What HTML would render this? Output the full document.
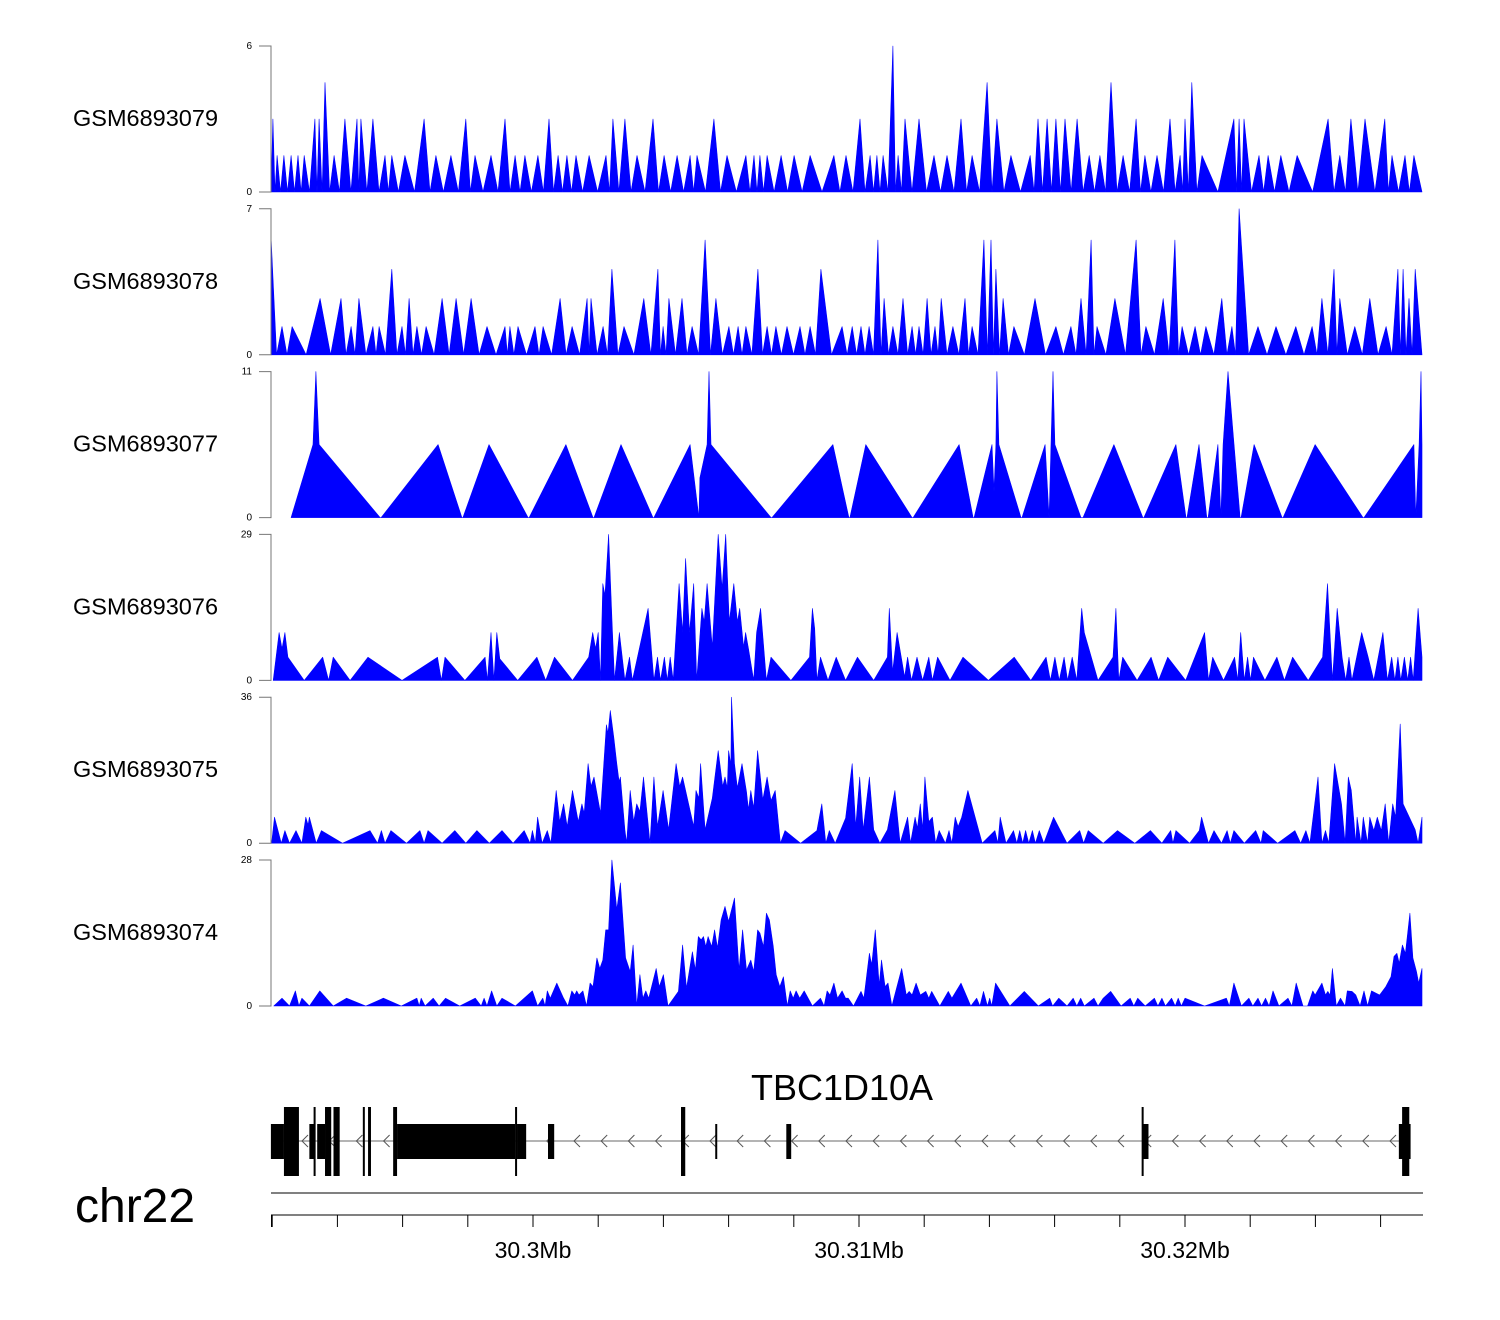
<!DOCTYPE html>
<html><head><meta charset="utf-8"><style>
html,body{margin:0;padding:0;background:#fff;}
svg{display:block;font-family:"Liberation Sans",sans-serif;}
</style></head><body>
<svg id="chart" width="1500" height="1320" viewBox="0 0 1500 1320" xmlns="http://www.w3.org/2000/svg">
<g id="tracks"></g>
<g id="gene"></g>
<g id="axis"></g>
<text x="75" y="1222" font-size="48">chr22</text>
<text x="842" y="1100" font-size="36" text-anchor="middle">TBC1D10A</text>
</svg>
<script>
// genomic positions are kb offsets from 30.29 Mb
const trackNames = ["GSM6893079","GSM6893078","GSM6893077","GSM6893076","GSM6893075","GSM6893074"];
const trackMax = [6,7,11,29,36,28];

// Track 1 (peaks)
const t1Pos = [2.02,2.15,2.36,2.58,2.79,2.98,3.31,3.44,3.62,3.90,4.23,4.60,4.72,5.09,5.46,5.67,6.07,6.66,7.02,7.48,7.94,8.22,8.71,9.14,9.45,9.75,10.15,10.49,10.77,11.04,11.32,11.72,12.24,12.45,12.82,13.19,13.68,14.02,14.42,14.82,15.03,15.55,15.95,16.53,16.78,16.96,17.18,17.61,18.01,18.50,19.23,19.60,20.03,20.34,20.55,20.74,21.04,21.20,21.41,21.84,22.30,22.70,23.13,23.47,23.93,24.23,24.66,25.25,25.49,25.77,26.04,26.32,26.69,27.06,27.39,27.73,28.10,28.50,28.77,29.14,29.54,29.85,30.00,30.21,30.52,31.50,31.66,31.81,32.27,32.55,32.94,33.44,34.39,34.75,35.09,35.52,36.13,36.35,36.75,37.02];
const t1Val = [3,1.5,1.5,1.5,1.5,1.5,3,3,4.5,1.5,3,3,3,3,1.5,1.5,1.5,3,1.5,1.5,3,1.5,1.5,3,1.5,1.5,1.5,3,1.5,1.5,1.5,1.5,1.5,3,3,1.5,3,1.5,1.5,1.5,1.5,3,1.5,1.5,1.5,1.5,1.5,1.5,1.5,1.5,1.5,1.5,3,1.5,1.5,1.5,6,1.5,3,3,1.5,1.5,3,1.5,4.5,3,1.5,1.5,3,3,3,3,3,1.5,1.5,4.5,1.5,3,1.5,1.5,3,1.5,3,4.5,1.5,3,3,3,1.5,1.5,1.5,1.5,3,1.5,3,3,3,1.5,1.5,1.5];

// Track 2 (peaks)
const t2Pos = [1.97,2.30,2.61,3.47,4.11,4.42,4.66,5.09,5.28,5.67,5.98,6.20,6.44,6.72,7.21,7.64,8.10,8.59,9.14,9.29,9.54,10.06,10.31,10.83,11.20,11.66,11.78,12.15,12.42,12.79,13.40,13.83,13.99,14.17,14.57,14.88,15.28,15.61,16.01,16.29,16.53,16.90,17.18,17.45,17.79,18.19,18.50,18.83,19.48,19.79,20.06,20.31,20.58,20.77,21.04,21.35,21.63,21.84,22.09,22.33,22.52,22.88,23.25,23.47,23.83,24.05,24.20,24.42,24.75,25.40,26.04,26.50,26.81,27.12,27.30,27.85,28.50,28.80,29.33,29.69,29.91,30.31,30.64,31.13,31.44,31.66,32.24,32.79,33.40,33.90,34.20,34.57,34.75,35.21,35.67,36.17,36.53,36.69,36.87,37.06];
const t2Val = [5.5,1.35,1.35,2.7,2.7,1.35,2.7,1.35,1.35,4.1,1.35,2.7,1.35,1.35,2.7,2.7,2.7,1.35,1.35,1.35,1.35,1.35,1.35,2.7,1.35,2.7,2.7,1.35,4.1,1.35,2.7,4.1,1.35,2.7,2.7,1.35,5.5,2.7,1.35,1.35,1.35,4.1,1.35,1.35,1.35,1.35,1.35,4.1,1.35,1.35,1.35,1.35,5.5,2.7,1.35,2.7,1.35,1.35,2.7,1.35,2.7,1.35,2.7,1.35,5.5,5.5,4.1,2.7,1.35,2.7,1.35,1.35,2.7,5.5,1.35,2.7,5.5,1.35,2.7,5.5,1.35,1.35,1.35,2.7,1.35,7,1.35,1.35,1.35,1.35,2.7,4.1,2.7,1.35,2.7,1.35,4.1,4.1,2.7,4.1];

// Track 3 (explicit profile)
const t3Pos = [2.58,3.25,3.34,3.44,5.31,5.34,7.09,7.82,7.85,8.65,9.85,9.88,11.01,11.84,11.87,12.70,13.68,13.71,14.82,15.09,15.12,15.34,15.40,15.46,17.30,17.33,19.20,19.69,19.72,20.21,21.63,21.66,23.07,23.50,23.53,24.08,24.14,24.20,24.23,24.29,24.97,25.00,25.71,25.83,25.89,25.95,26.01,26.81,26.87,27.82,28.71,28.74,29.72,30.03,30.06,30.43,30.67,30.71,31.01,31.10,31.17,31.32,31.69,31.72,32.12,32.98,33.01,33.99,35.46,35.49,37.02,37.08,37.18,37.24,37.27];
const t3Val = [0,5.5,11,5.5,0,0,5.5,0,0,5.5,0,0,5.5,0,0,5.5,0,0,5.5,0,3,5.5,11,5.5,0,0,5.5,0,0,5.5,0,0,5.5,0,0,5.5,2,5.5,11,5.5,0,0,5.5,0,5.5,11,5.5,0,0,5.5,0,0,5.5,0,0,5.5,0,0,5.5,0,5.5,11,0,0,5.5,0,0,5.5,0,0,5.5,0,5.5,11,5.5];

// Track 4 (explicit profile)
const t4Pos = [2.03,2.21,2.30,2.39,2.48,2.98,3.55,3.73,3.87,4.39,4.94,5.98,7.07,7.19,7.30,7.91,8.53,8.60,8.71,8.80,8.89,8.98,9.53,10.12,10.39,10.66,11.21,11.71,11.83,11.92,12.00,12.07,12.14,12.21,12.32,12.43,12.50,12.65,12.82,12.96,13.05,13.53,13.71,13.82,13.91,14.03,14.12,14.21,14.30,14.48,14.59,14.68,14.80,14.93,15.02,15.18,15.25,15.34,15.50,15.68,15.80,15.91,16.02,16.16,16.27,16.34,16.46,16.52,16.61,16.77,16.86,16.98,17.16,17.30,17.91,18.48,18.57,18.64,18.71,18.82,19.05,19.30,19.59,19.95,20.45,20.87,20.93,21.03,21.17,21.40,21.49,21.61,21.78,21.95,22.14,22.25,22.41,22.79,23.19,23.97,24.76,25.27,25.74,25.87,26.01,26.14,26.29,26.40,26.54,26.68,26.83,26.91,27.33,27.79,27.88,27.97,28.09,28.53,28.96,29.19,29.47,30.02,30.60,30.72,30.85,31.18,31.52,31.62,31.71,31.82,31.92,32.01,32.10,32.45,32.82,33.05,33.30,33.78,34.22,34.37,34.52,34.67,34.82,34.93,35.03,35.12,35.42,35.62,35.79,36.07,36.21,36.34,36.44,36.53,36.62,36.73,36.83,36.92,37.00,37.15,37.27];
const t4Val = [0,9.5,6.3,9.5,4.6,0,4.6,0,4.6,0,4.6,0,4.6,0,4.6,0,4.6,0,9.5,0,9.5,4.3,0,4.6,0,4.6,0,4.6,9.5,6.3,9.5,0,19.2,16.9,29,10.9,0,9.5,0,4.6,0,14.3,0,4.6,0,4.6,0,4.6,0,19.2,9.5,24.2,9.5,19.2,0,14.3,11.6,19.2,6.6,29,18.2,29,11.6,19.2,11.6,14.3,6.6,9.5,6.3,0,9.5,14.3,0,4.6,0,4.6,14.3,10.3,0,4.6,0,4.6,0,4.6,0,4.6,14.3,1.7,9.5,0.7,4.6,0,4.6,0,4.6,0,4.6,0,4.6,0,4.6,0,4.6,0,4.6,0,4.6,0,4.6,0,14.3,9.5,0,4.6,14.3,0,4.6,0,4.6,0,4.6,0,9.5,0,4.6,0,4.6,0,9.5,0,4.6,0,4.6,0,4.6,0,4.6,0,4.6,19.2,0,14.3,4.6,0,4.6,0,9.5,4.6,0,9.5,0,4.6,0,4.6,0,4.6,0,4.6,0,14.3,4.6];

// Track 5 (explicit profile)
const t5Pos = [1.98,2.07,2.28,2.39,2.53,2.73,2.91,3.03,3.10,3.14,3.35,3.51,4.16,5.00,5.23,5.35,5.46,5.64,6.12,6.53,6.66,6.78,7.21,7.60,7.94,8.28,8.66,9.05,9.39,9.73,9.91,9.98,10.07,10.14,10.28,10.44,10.55,10.71,10.82,10.94,11.05,11.21,11.39,11.50,11.57,11.69,11.78,11.87,12.07,12.25,12.30,12.37,12.48,12.57,12.64,12.68,12.82,12.87,12.98,13.09,13.18,13.28,13.39,13.59,13.71,13.82,13.99,14.16,14.39,14.50,14.59,14.93,15.00,15.09,15.14,15.28,15.50,15.68,15.82,15.89,15.96,16.00,16.07,16.09,16.18,16.27,16.41,16.55,16.61,16.68,16.77,16.89,17.05,17.18,17.30,17.43,17.59,17.73,18.21,18.71,18.86,18.98,19.09,19.27,19.59,19.79,19.90,20.02,20.13,20.32,20.45,20.64,20.87,21.10,21.26,21.49,21.58,21.72,21.79,21.88,21.95,22.02,22.14,22.25,22.35,22.46,22.65,22.76,22.85,22.95,23.04,23.15,23.34,23.78,24.17,24.26,24.33,24.51,24.74,24.84,24.93,25.02,25.11,25.21,25.32,25.41,25.53,25.67,25.97,26.38,26.77,26.89,27.03,27.49,27.93,28.46,28.94,29.29,29.56,29.63,29.72,30.14,30.44,30.51,30.72,30.89,31.12,31.29,31.39,31.50,31.82,32.17,32.33,32.40,32.84,33.37,33.55,33.71,33.83,34.08,34.20,34.31,34.41,34.59,34.80,34.91,35.01,35.10,35.24,35.28,35.40,35.47,35.60,35.67,35.79,35.90,36.02,36.14,36.25,36.37,36.46,36.60,36.69,37.06,37.15,37.27];
const t5Val = [0,6.4,0,3.1,0,3.1,0,6.4,4.5,6.4,0,3.1,0,3.1,0,3.1,0,3.1,0,3.1,0,3.1,0,3.1,0,3.1,0,3.1,0,3.1,0,3.1,0,6.4,0,3.1,0,13,5.3,9.7,4.1,13,5.3,9.7,7.4,19.6,14,16.3,7.4,29.2,27.1,32.7,25.9,19.6,15.2,16.3,3.3,0,13,5.3,9.7,7.8,16.3,0,16.3,4.1,13,3.3,19.6,14,16.3,4.1,13,11.1,19.6,3.3,11.1,22.8,14,16.3,13.6,22.8,19.3,36,19.6,13.6,19.6,12.7,8.2,13,8.6,22.8,10.7,16.3,10.5,13,0,3.1,0,3.1,9.7,0,3.1,0,6.2,19.6,4.1,16.3,3.3,16.3,3.3,0,3.3,13,0,6.4,0,6.4,3.7,9.7,3.3,16.3,5.3,6.4,0,3.1,0,3.1,0,6.4,4.1,6.4,13,0,3.1,0,6.4,0,3.1,0,3.1,0,3.1,0,3.1,0,3.1,0,6.4,0,3.1,0,3.1,0,3.1,0,3.1,0,3.1,0,3.1,0,3.1,6.4,0,3.1,0,3.1,0,3.1,0,3.1,0,3.1,0,3.1,0,3.1,0,16.3,0,3.1,0,19.6,9.7,0,16.3,13,0,6.4,0,6.4,0,6.4,3.1,6.4,3.1,9.7,0,9.7,6.4,29.4,9.7,3.3,0,6.4];

// Track 6 (explicit profile)
const t6Pos = [2.05,2.30,2.53,2.71,2.82,2.91,3.14,3.46,3.87,4.28,4.87,5.41,5.96,6.44,6.51,6.57,6.69,6.94,7.12,7.32,7.75,8.23,8.41,8.50,8.59,8.73,8.89,9.05,9.46,9.98,
 10.14,10.30,10.37,10.44,10.53,10.73,10.94,11.07,11.19,11.28,11.34,11.41,11.53,11.64,11.75,11.84,11.96,12.05,12.14,12.23,12.32,12.42,12.57,12.68,12.84,12.98,13.07,13.18,13.28,13.37,
 13.46,13.55,13.78,13.87,14.00,14.14,14.46,14.59,14.71,14.89,14.98,15.07,15.16,15.23,15.30,15.37,15.48,15.57,15.66,15.77,15.89,16.00,16.18,16.32,16.43,16.55,16.68,16.77,16.89,16.96,
 17.07,17.16,17.25,17.37,17.46,17.57,17.68,17.80,17.89,17.98,18.07,18.18,18.32,18.57,18.82,18.93,19.02,19.11,19.23,19.34,19.48,19.59,19.67,19.83,20.06,20.15,20.32,20.39,20.50,20.62,
 20.69,20.80,20.89,21.01,21.31,21.45,21.54,21.63,21.75,21.88,22.05,22.14,22.23,22.48,22.74,22.85,23.13,23.43,23.61,23.71,23.82,23.94,24.01,24.07,24.19,24.63,25.07,25.50,25.85,25.94,
 26.13,26.38,26.57,26.68,26.80,26.91,27.21,27.33,27.49,27.72,28.04,28.32,28.43,28.55,28.78,29.06,29.17,29.29,29.40,29.59,29.70,29.79,29.89,30.00,30.60,31.27,31.36,31.50,31.73,31.96,
 32.08,32.24,32.35,32.47,32.58,32.70,32.88,33.16,33.28,33.41,33.62,33.76,33.92,33.99,34.20,34.31,34.38,34.45,34.52,34.64,34.77,34.91,34.98,35.12,35.24,35.37,35.49,35.60,35.72,35.97,
 36.16,36.32,36.41,36.50,36.57,36.67,36.76,36.90,36.99,37.10,37.17,37.27];
const t6Val = [0,1.5,0,2.9,0,1.5,0,2.9,0,1.5,0,1.5,0,1.5,0,1.5,0,1.5,0,1.5,0,1.5,0,1.5,0,2.9,0,1.5,0,2.9,
 0,1.5,0,2.9,1.5,4.4,1.5,0,2.9,2.1,2.9,2.1,2.9,0,4.4,3.7,9.2,7.2,8.8,14.6,14.6,28,18.5,23.6,9.2,6.6,11.7,0,6.0,1.5,
 2.9,1.5,7.2,3.7,6.0,0,2.8,11.7,3.4,10.4,6.9,13.3,12.7,13.3,11.4,13.3,11.4,14.6,11.1,16.5,19.1,16.2,20.7,6.9,14.6,6.9,8.8,6.6,14.6,14.0,
 11.4,17.8,16.5,11.4,6.0,3.7,5.6,0,2.9,1.5,2.9,1.5,2.9,0,1.5,0,2.9,2.1,4.4,1.5,2.9,1.5,1.5,0,2.8,1.5,10.1,7.9,14.6,4.0,
 8.8,3.7,4.4,0,7.2,2.1,2.8,2.1,4.4,2.1,2.8,1.5,2.8,0,2.8,1.5,4.4,0,1.5,0,2.8,0,1.5,0,4.4,0,2.8,0,1.5,0,
 1.5,0,1.5,0,1.5,0,1.5,0,1.5,2.8,0,1.5,0,1.5,0,1.5,0,1.5,0,1.5,0,1.5,0,1.5,0,1.5,0,4.4,0,1.5,
 0,1.5,0,1.5,0,2.9,0,1.5,0,4.4,0,0,2.9,2.1,4.4,2.1,2.8,2.1,7.2,0,1.5,0,2.9,2.8,2.1,0,2.9,0,2.9,2.1,
 3.7,5.6,9.5,10.1,8.2,11.7,10.1,17.8,9.2,6.6,4.4,7.2];

// Gene exons: [start kb, end kb, type] type: 1 = coding (tall), 0 = UTR (short)
const exonStart = [1.96,2.36,3.14,3.27,3.38,3.62,3.88,4.78,4.94,5.71,5.83,9.45,9.51,10.46,14.54,15.59,17.77,28.67,28.70,36.56,36.66];
const exonEnd   = [2.36,2.82,3.30,3.30,3.62,3.81,4.07,4.82,5.03,5.83,9.45,9.51,9.79,10.65,14.67,15.65,17.92,28.70,28.88,36.92,36.88];
const exonType  = [0,1,0,1,0,1,1,1,1,1,0,1,0,0,1,0,0,1,0,0,1];
const axisTickKb = [2,4,6,8,10,12,14,16,18,20,22,24,26,28,30,32,34,36];
const axisLabelKb = [10,20,30];
const axisLabels = ["30.3Mb","30.31Mb","30.32Mb"];

const NS = "http://www.w3.org/2000/svg";
const X0 = 271, X1 = 1422, KB_MIN = 1.963, KB_MAX = 37.27;
function xScale(kb){ return X0 + (kb - KB_MIN) * (X1 - X0) / (KB_MAX - KB_MIN); }
function mk(tag, attrs, parent){ const e = document.createElementNS(NS, tag); for (const k in attrs) e.setAttribute(k, attrs[k]); parent.appendChild(e); return e; }

function peaksToProfile(pos, val){
  const p = [], v = [];
  for (let i = 0; i < pos.length; i++){
    const gl = i > 0 ? pos[i] - pos[i-1] : 1.2;
    const gr = i < pos.length - 1 ? pos[i+1] - pos[i] : 1.2;
    p.push(pos[i] - Math.min(gl/2, 0.6)); v.push(0);
    p.push(pos[i]); v.push(val[i]);
    p.push(pos[i] + Math.min(gr/2, 0.6)); v.push(0);
  }
  return [p, v];
}

const profiles = [
  peaksToProfile(t1Pos, t1Val),
  peaksToProfile(t2Pos, t2Val),
  [t3Pos, t3Val], [t4Pos, t4Val], [t5Pos, t5Val], [t6Pos, t6Val]
];

const tracksG = document.getElementById('tracks');
const TOP0 = 46, STEP = 162.8, H = 146;
for (let t = 0; t < 6; t++){
  const top = TOP0 + t * STEP, base = top + H;
  const g = mk('g', {}, tracksG);
  
  
  const lab = mk('text', {x: 73, y: (top + base)/2 + 7, 'font-size': 23.5, fill: '#000'}, g);
  lab.textContent = trackNames[t];
  
  
  const yS = v => base - v / trackMax[t] * H;
  const [pp, vv] = profiles[t];
  const n = Math.min(pp.length, vv.length);
  let d = 'M' + xScale(Math.max(KB_MIN, pp[0])).toFixed(1) + ',' + base;
  for (let i = 0; i < n; i++){
    const kb = Math.min(KB_MAX, Math.max(KB_MIN, pp[i]));
    d += ' L' + xScale(kb).toFixed(1) + ',' + yS(vv[i]).toFixed(1);
  }
  d += ' L' + xScale(Math.min(KB_MAX, pp[n-1])).toFixed(1) + ',' + base + ' Z';
  const area = mk('path', {d: d, fill: '#0000FF', stroke: '#0000FF', 'stroke-width': 0.6, 'stroke-linejoin': 'round'}, g);
  
  
  const ax = mk('path', {d: `M259,${top} H271 V${base} H259`, fill: 'none', stroke: '#777', 'stroke-width': 1}, g);
  
  
  const tmax = mk('text', {x: 252, y: top + 3, 'font-size': 10, 'text-anchor': 'end'}, g);
  tmax.textContent = trackMax[t];
  
  
  const tmin = mk('text', {x: 252, y: base + 3, 'font-size': 10, 'text-anchor': 'end'}, g);
  tmin.textContent = '0';
  
  
}

// gene model
const geneG = document.getElementById('gene');
const GY = 1141;
const strand = mk('line', {x1: xScale(2.0), x2: xScale(36.9), y1: GY, y2: GY, stroke: '#888', 'stroke-width': 1.2}, geneG);


for (let x = 302; x < 1400; x += 27.2){
  const c = mk('path', {d: `M${x+6},${GY-6} L${x},${GY} L${x+6},${GY+6}`, fill: 'none', stroke: '#555', 'stroke-width': 1}, geneG);
  
  
}
for (let i = 0; i < exonStart.length; i++){
  const x1 = xScale(exonStart[i]), x2 = xScale(exonEnd[i]);
  const tall = exonType[i] === 1;
  const y = tall ? 1107 : 1124, h = tall ? 69 : 35;
  const r = mk('rect', {x: x1, y: y, width: Math.max(2, x2 - x1), height: h, fill: '#000'}, geneG);
  
  
}

// genome axis
const axG = document.getElementById('axis');
const gl = mk('line', {x1: 271, x2: 1423, y1: 1193, y2: 1193, stroke: '#000', 'stroke-width': 1}, axG);


const al = mk('line', {x1: 271, x2: 1423, y1: 1215, y2: 1215, stroke: '#000', 'stroke-width': 1}, axG);


const lt = mk('line', {x1: 271.5, x2: 271.5, y1: 1215, y2: 1227, stroke: '#000', 'stroke-width': 1}, axG);


for (const k of axisTickKb){
  const x = xScale(k);
  const tk = mk('line', {x1: x, x2: x, y1: 1215, y2: 1227, stroke: '#000', 'stroke-width': 1}, axG);
  
  
}
for (let i = 0; i < axisLabelKb.length; i++){
  const tx = mk('text', {x: xScale(axisLabelKb[i]), y: 1258, 'font-size': 23, 'text-anchor': 'middle'}, axG);
  tx.textContent = axisLabels[i];
  
  
}
</script>
</body></html>
